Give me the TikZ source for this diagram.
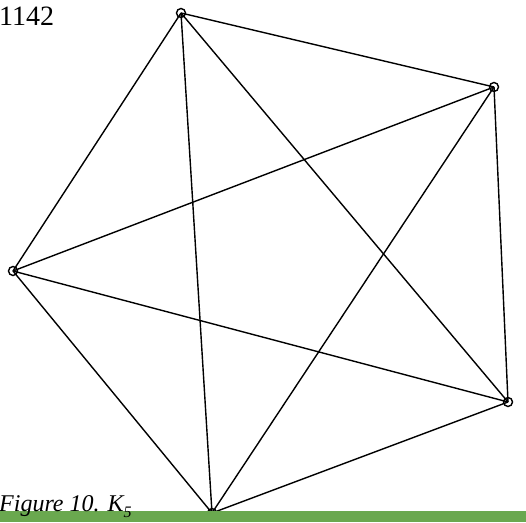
\documentclass[tikz,border=0pt]{standalone}
\usepackage{fontspec}
\setmainfont{Liberation Serif}
\definecolor{barcolor}{HTML}{6AA84F}
\begin{document}
\begin{tikzpicture}[x=1pt,y=1pt,
  vtx/.style={circle,draw,inner sep=0pt,minimum size=9pt,line width=1.4pt},
  edge/.style={line width=1.4pt}]
\useasboundingbox (0,0) rectangle (526,522);
\coordinate (A) at (181,509);
\coordinate (B) at (494,435);
\coordinate (C) at (13,251);
\coordinate (D) at (508,120);
\coordinate (E) at (212,9);
\foreach \u/\v in {A/B,A/C,A/D,A/E,B/C,B/D,B/E,C/D,C/E,D/E}
  \draw[edge] (\u) -- (\v);
\foreach \p in {A,B,C,D,E}
  \node[vtx] (n\p) at (\p) {};
\fill[barcolor] (0,0) rectangle (526,11);
\node[anchor=base west,inner sep=0pt,font=\fontsize{28}{28}\selectfont] (page) at (-1,496) {1142};
\node[anchor=base west,inner sep=0pt,font=\fontsize{24}{24}\selectfont\itshape] (cap) at (-1,11) {Figure 10. K\raisebox{-0.25em}{\fontsize{16}{16}\selectfont 5}};
\end{tikzpicture}
\end{document}
